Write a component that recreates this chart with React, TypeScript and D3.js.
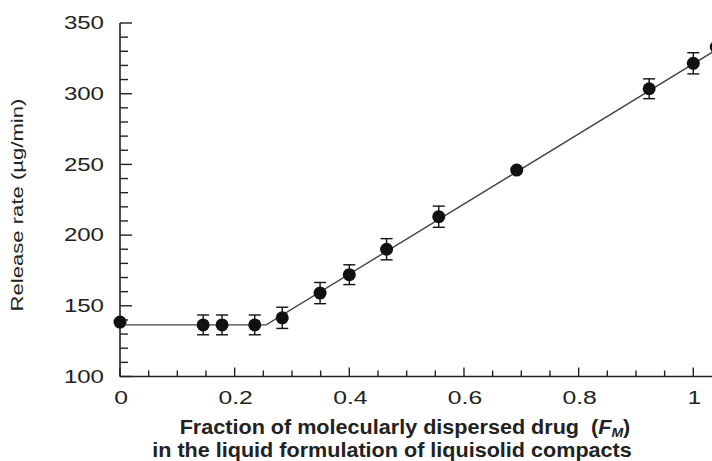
import React from "react";
import * as d3 from "d3";

const fm = [0, 0.145, 0.178, 0.235, 0.283, 0.349, 0.4, 0.465, 0.556, 0.692, 0.923, 1.0, 1.04];
const rate = [138.5, 136.5, 136.5, 136.5, 141.5, 159, 172, 190, 213, 246, 303.5, 321.5, 333];
const err = [0, 7, 7, 7, 7.5, 7.5, 7, 7.5, 7.5, 1.5, 7, 7.5, 0];

const fitX = [0, 0.255, 1.05];
const fitY = [136.5, 136.5, 333.5];

const xMajor = [0, 0.2, 0.4, 0.6, 0.8, 1];
const xMinor = [0.05, 0.1, 0.15, 0.25, 0.3, 0.35, 0.45, 0.5, 0.55, 0.65, 0.7, 0.75, 0.85, 0.9, 0.95];
const xLabels = ["0", "0.2", "0.4", "0.6", "0.8", "1"];
const yMajor = [100, 150, 200, 250, 300, 350];
const yMinor = d3.range(110, 350, 10).filter((v) => v % 50 !== 0);

const W = 712;
const H = 461;

export default function App() {
  const x = d3.scaleLinear().domain([0, 1]).range([120, 693.3]);
  const y = d3.scaleLinear().domain([100, 350]).range([376.5, 23]);
  const ink = "#222";
  const font = "'Liberation Sans', Arial, Helvetica, sans-serif";
  const line = d3
    .line<number>()
    .x((_, i) => x(fitX[i]))
    .y((d) => y(d));

  return (
    <div style={{ position: "fixed", left: 0, top: 0 }}>
      <svg width={W} height={H} style={{ display: "block", background: "#fff" }}>
        {/* axes */}
        <line x1={x(0)} x2={W} y1={y(100)} y2={y(100)} stroke={ink} strokeWidth={1.6} />
        <line x1={x(0)} x2={x(0)} y1={y(100)} y2={y(350)} stroke={ink} strokeWidth={1.6} />
        {xMajor.map((v) => (
          <line key={"xM" + v} x1={x(v)} x2={x(v)} y1={y(100)} y2={y(100) - 9} stroke={ink} strokeWidth={1.4} />
        ))}
        {xMinor.map((v) => (
          <line key={"xm" + v} x1={x(v)} x2={x(v)} y1={y(100)} y2={y(100) - 6} stroke={ink} strokeWidth={1.4} />
        ))}
        {yMajor.map((v) => (
          <line key={"yM" + v} x1={x(0)} x2={x(0) + 12} y1={y(v)} y2={y(v)} stroke={ink} strokeWidth={1.4} />
        ))}
        {yMinor.map((v) => (
          <line key={"ym" + v} x1={x(0)} x2={x(0) + 8} y1={y(v)} y2={y(v)} stroke={ink} strokeWidth={1.4} />
        ))}
        {xMajor.map((v, i) => (
          <text
            key={"xl" + v}
            transform={`translate(${x(v) + 1},${y(100) + 27.5}) scale(1.3,1)`}
            textAnchor="middle"
            fontFamily={font}
            fontSize={19}
            fill={ink}
          >
            {xLabels[i]}
          </text>
        ))}
        {yMajor.map((v) => (
          <text
            key={"yl" + v}
            transform={`translate(${x(0) - 16},${y(v) + 6.3}) scale(1.3,1)`}
            textAnchor="end"
            fontFamily={font}
            fontSize={18.5}
            fill={ink}
          >
            {v}
          </text>
        ))}
        {/* fit line */}
        <path d={line(fitY) || ""} fill="none" stroke="#444" strokeWidth={1.4} />
        {/* error bars */}
        {fm.map((v, i) =>
          err[i] > 0 ? (
            <g key={"e" + i} stroke="#111" strokeWidth={1.4}>
              <line x1={x(v)} x2={x(v)} y1={y(rate[i] - err[i])} y2={y(rate[i] + err[i])} />
              <line x1={x(v) - 6} x2={x(v) + 6} y1={y(rate[i] - err[i])} y2={y(rate[i] - err[i])} />
              <line x1={x(v) - 6} x2={x(v) + 6} y1={y(rate[i] + err[i])} y2={y(rate[i] + err[i])} />
            </g>
          ) : null
        )}
        {fm.map((v, i) => (
          <circle key={"p" + i} cx={x(v)} cy={y(rate[i])} r={6.5} fill="#111" />
        ))}
        {/* titles */}
        <text
          transform={`translate(23,205) rotate(-90) scale(1.3,1)`}
          textAnchor="middle"
          fontFamily={font}
          fontSize={17}
          fill={ink}
        >
          Release rate (µg/min)
        </text>
        <text
          transform={`translate(405,434) scale(1.08,1)`}
          textAnchor="middle"
          fontFamily={font}
          fontSize={20}
          fontWeight="bold"
          fill={ink}
        >
          Fraction of molecularly dispersed drug{"\u00a0\u00a0"}(
          <tspan fontStyle="italic">F</tspan>
          <tspan fontStyle="italic" fontSize={13} dy={3}>
            M
          </tspan>
          <tspan dy={-3}>)</tspan>
        </text>
        <text
          transform={`translate(392,457) scale(1.08,1)`}
          textAnchor="middle"
          fontFamily={font}
          fontSize={20}
          fontWeight="bold"
          fill={ink}
        >
          in the liquid formulation of liquisolid compacts
        </text>
      </svg>
    </div>
  );
}
